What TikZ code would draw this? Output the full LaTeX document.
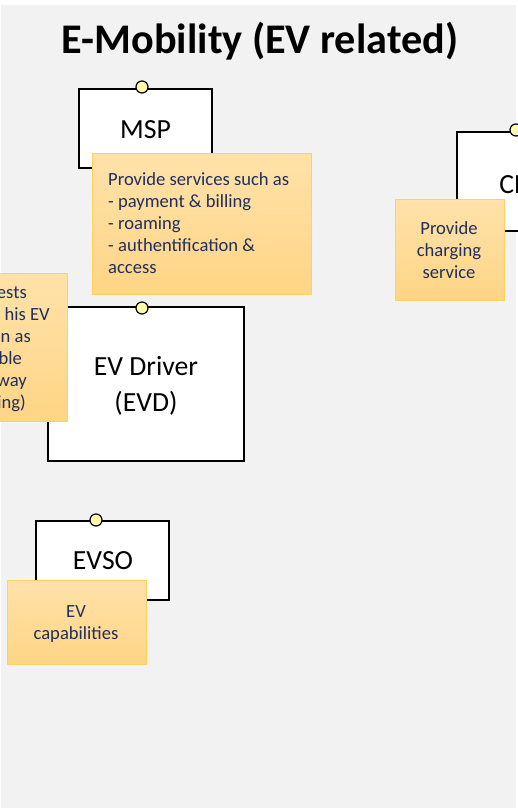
\documentclass[tikz,border=0pt]{standalone}
\usepackage{fontspec}
\setmainfont{Carlito}
\definecolor{panel}{HTML}{F2F2F2}
\definecolor{notetop}{HTML}{FFE2AA}
\definecolor{notebot}{HTML}{FFD585}
\definecolor{noteedge}{HTML}{FFD260}
\definecolor{notetext}{HTML}{1F2F5E}
\definecolor{portfill}{HTML}{FFFFAA}
\tikzset{
  actor/.style={draw=black, line width=2pt, fill=white},
  port/.style={circle, draw=black, line width=1.2pt, fill=portfill, minimum size=12pt, inner sep=0pt},
  notebox/.style={draw=noteedge, line width=1pt, top color=notetop, bottom color=notebot},
  actortext/.style={font=\fontsize{27.7}{36}\selectfont, align=center, inner sep=0pt},
  notetxt/.style={font=\fontsize{18.6}{22}\selectfont, text=notetext, inner sep=0pt},
}
\begin{document}
\begin{tikzpicture}[x=1pt, y=-1pt]
\useasboundingbox (0,0) rectangle (518,808);
\begin{scope}
\clip (0,0) rectangle (518,808);
% background panel
\fill[panel] (1,5) rectangle (516,808);

% title
\node[font=\fontsize{42.2}{48}\bfseries\selectfont, anchor=base] (title) at (260,54) {E-Mobility (EV related)};

% MSP
\draw[actor] (79,89) rectangle (212,168);
\node[actortext] (msp) at (145.5,130) {MSP};
\node[port] (mspport) at (142,87) {};
\draw[notebox] (92,153) rectangle (311,294);
\node[notetxt, align=left, anchor=north west] (mspnote) at (108,172.5)
  {Provide services such as\\- payment \& billing\\- roaming\\- authentification \&\\access};

% CPO (runs past the right edge)
\draw[actor] (457,132) rectangle (590,231);
\node[actortext] (cpo) at (523,185) {CPO};
\node[port] (cpoport) at (516,130) {};
\draw[notebox] (395,199) rectangle (504,300);
\node[notetxt, align=center] (cponote) at (449,250.5) {Provide\\charging\\service};

% EV Driver
\draw[actor] (48,307) rectangle (244,461);
\node[actortext] (evd) at (146,386) {EV Driver\\(EVD)};
\node[port] (evdport) at (142,308) {};
\draw[notebox] (-60,273) rectangle (67,421);
\node[notetxt, anchor=base east] (l1) at (27,298) {ests};
\node[notetxt, anchor=base east] (l2) at (50,320) {his EV};
\node[notetxt, anchor=base east] (l3) at (31,342) {n as};
\node[notetxt, anchor=base east] (l4) at (22,364) {ble};
\node[notetxt, anchor=base east] (l5) at (27,386) {way};
\node[notetxt, anchor=base east] (l6) at (26,408) {ing)};

% EVSO
\draw[actor] (36,521) rectangle (169,600);
\node[actortext] (evso) at (103,561) {EVSO};
\node[port] (evsoport) at (96,520) {};
\draw[notebox] (7,580) rectangle (146,664);
\node[notetxt, align=center] (evsonote) at (76,624.5) {EV\\capabilities};
\end{scope}
\end{tikzpicture}
\end{document}
